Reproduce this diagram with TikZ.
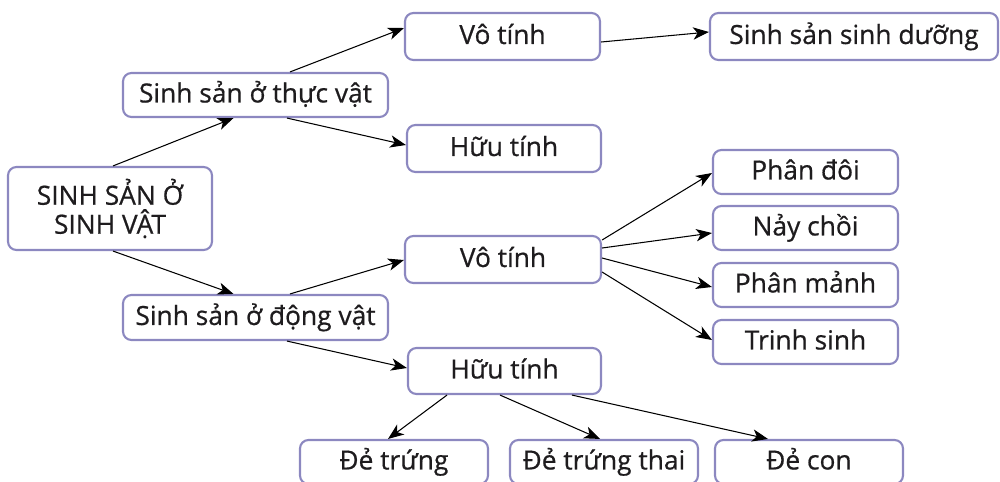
\documentclass[tikz,border=0pt]{standalone}
\usepackage{fontspec}
\setmainfont{Open Sans}[FakeBold=0.6]
\usetikzlibrary{arrows.meta,calc}
\definecolor{boxline}{RGB}{140,136,192}
\definecolor{txt}{RGB}{30,28,30}
\begin{document}
\begin{tikzpicture}[x=0.02cm,y=-0.02cm,
  box/.style={draw=boxline, line width=1.2pt, rounded corners=0.17cm, fill=white, text=txt,
    font=\fontsize{15}{20}\selectfont, inner sep=0pt, align=center,
    text height=1.05em, text depth=0.2em},
  rootbox/.style={draw=boxline, line width=1.2pt, rounded corners=0.17cm, fill=white, text=txt,
    font=\fontsize{15}{16.5}\selectfont, inner sep=0pt, align=center},
  sz/.style 2 args={minimum width=#1*0.02cm, minimum height=#2*0.02cm},
  arr/.style={-{Stealth[length=9pt,width=7pt,inset=2.5pt]}, line width=0.6pt, black}]
\useasboundingbox (0,0) rectangle (1000,481);
\node[rootbox, sz={204}{83}] (root) at (110,208.5) {SINH SẢN Ở\\SINH VẬT};
\node[box, sz={265}{44}] (tv) at (255.5,95) {Sinh sản ở thực vật};
\node[box, sz={195}{47}] (vt1) at (502.5,36.5) {Vô tính};
\node[box, sz={288}{47}] (sssd) at (854,36.5) {Sinh sản sinh dưỡng};
\node[box, sz={194}{47}] (ht1) at (504,148.5) {Hữu tính};
\node[box, sz={185}{44}] (pd) at (805.5,172) {Phân đôi};
\node[box, sz={185}{44}] (nc) at (805.5,228) {Nảy chồi};
\node[box, sz={185}{44}] (pm) at (805.5,285) {Phân mảnh};
\node[box, sz={185}{44}] (ts) at (805.5,342) {Trinh sinh};
\node[box, sz={196}{47}] (vt2) at (503,259.5) {Vô tính};
\node[box, sz={265}{45}] (dv) at (255.5,317.5) {Sinh sản ở động vật};
\node[box, sz={193}{46}] (ht2) at (504.5,371) {Hữu tính};
\node[box, sz={188}{44}] (dt) at (394,462) {Đẻ trứng};
\node[box, sz={188}{44}] (dtt) at (604,462) {Đẻ trứng thai};
\node[box, sz={188}{44}] (dc) at (809,462) {Đẻ con};

\draw[arr] ($(root.north)+(3,0)$) -- ($(tv.south)+(-22,0)$);
\draw[arr] ($(root.south)+(3,0)$) -- ($(dv.north)+(-22,0)$);
\draw[arr] ($(tv.north)+(34.5,0)$) -- ($(vt1.west)+(0,-8.5)$);
\draw[arr] ($(tv.south)+(31.5,0)$) -- ($(ht1.west)+(0,-3.5)$);
\draw[arr] ($(vt1.east)+(0,5.5)$) -- ($(sssd.west)+(0,-4.5)$);
\draw[arr] ($(dv.north)+(34.5,0)$) -- ($(vt2.west)+(0,0.5)$);
\draw[arr] ($(dv.south)+(31.5,0)$) -- ($(ht2.west)+(0,-3)$);
\draw[arr] ($(vt2.east)+(0,-19.5)$) -- ($(pd.west)+(0,1)$);
\draw[arr] ($(vt2.east)+(0,-11.5)$) -- ($(nc.west)+(0,5)$);
\draw[arr] ($(vt2.east)+(0,-1.5)$) -- ($(pm.west)+(0,2)$);
\draw[arr] ($(vt2.east)+(0,12.5)$) -- ($(ts.west)+(0,-2)$);
\draw[arr] ($(ht2.south)+(-57.5,0)$) -- ($(dt.north)+(-6,0)$);
\draw[arr] ($(ht2.south)+(-4.5,0)$) -- ($(dtt.north)+(-4,0)$);
\draw[arr] ($(ht2.south)+(67.5,0)$) -- ($(dc.north)+(-41,0)$);
\end{tikzpicture}
\end{document}
